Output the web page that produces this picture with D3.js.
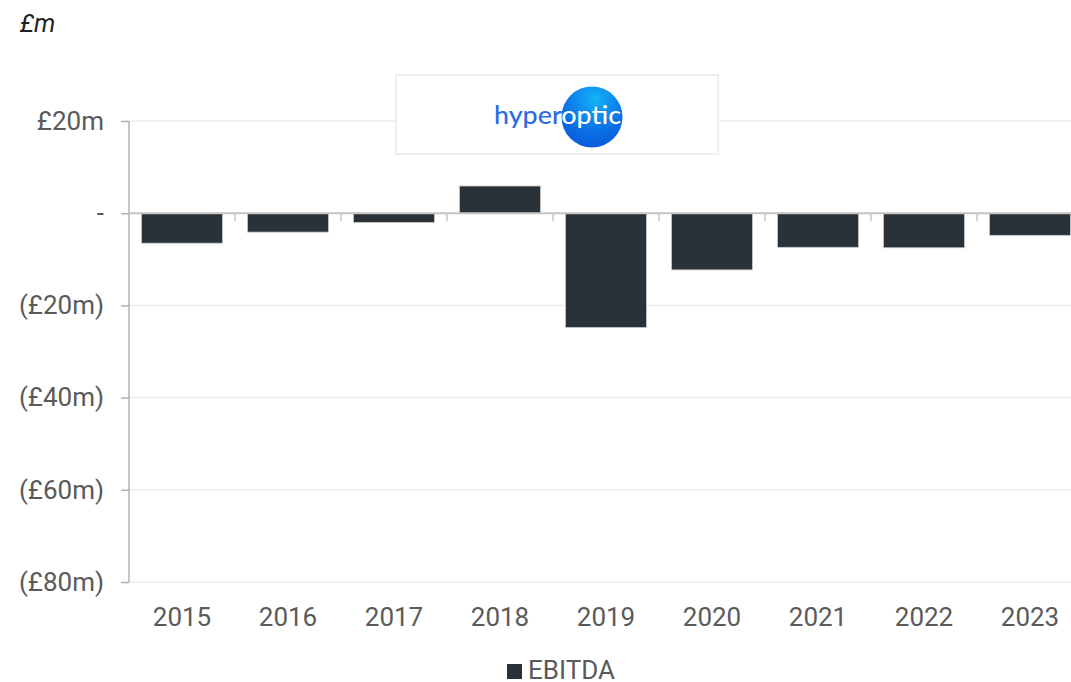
<html>
<head>
<meta charset="utf-8">
<script src="https://cdn.jsdelivr.net/npm/d3@7"></script>
<style>
  body { margin: 0; background: #fff; font-family: Roboto, "Noto Sans", sans-serif; }
  svg { display: block; }
</style>
</head>
<body>
<div id="chart"></div>
<script>
// data
var years = ["2015", "2016", "2017", "2018", "2019", "2020", "2021", "2022", "2023"];
var ebitda = [-6.5, -4.1, -2.0, 5.9, -24.8, -12.3, -7.4, -7.5, -4.8];
var yTicks = [20, 0, -20, -40, -60, -80];
var seriesName = "EBITDA";

var W = 1071, H = 682;
var mLeft = 129, mRight = 1083, mTop = 121, mBottom = 582;

var svg = d3.select("#chart").append("svg").attr("width", W).attr("height", H);

var x = d3.scaleBand().domain(years).range([mLeft, mRight]).paddingInner(0.236).paddingOuter(0.118);
var y = d3.scaleLinear().domain([-80, 20]).range([mBottom, mTop]);

function fmt(v) {
  if (v === 0) return "-";
  if (v < 0) return "(£" + Math.abs(v) + "m)";
  return "£" + v + "m";
}

// gridlines
svg.append("g").selectAll("line").data(yTicks.filter(function(d) { return d !== 0; }))
  .enter().append("line")
  .attr("x1", mLeft).attr("x2", W)
  .attr("y1", function(d) { return y(d); }).attr("y2", function(d) { return y(d); })
  .attr("stroke", "#ececec").attr("stroke-width", 1.5);

// y axis
var yAxis = d3.axisLeft(y).tickValues(yTicks).tickFormat(fmt).tickSize(8).tickPadding(17);
var gy = svg.append("g").attr("transform", "translate(" + mLeft + ",0)").call(yAxis);
gy.select(".domain").attr("stroke", "#b3b3b3").attr("stroke-width", 1.5).attr("d", "M0," + mTop + "V" + mBottom);
gy.selectAll(".tick line").attr("stroke", "#b3b3b3").attr("stroke-width", 1.5);
gy.selectAll(".tick text").attr("fill", "#5a5a5a").style("font-size", "26px")
  .style("font-family", "Roboto, sans-serif");

// bars
svg.append("g").selectAll("rect").data(years).enter().append("rect")
  .attr("x", function(d) { return x(d); })
  .attr("width", x.bandwidth())
  .attr("y", function(d, i) { return y(Math.max(0, ebitda[i])); })
  .attr("height", function(d, i) { return Math.abs(y(ebitda[i]) - y(0)); })
  .attr("fill", "#283238")
  .attr("stroke", "#c8c8c8").attr("stroke-width", 0.8);

// zero axis with ticks at band boundaries
var xAxis = d3.axisBottom(x).tickSize(0).tickPadding(0).tickFormat("");
var gx = svg.append("g").attr("transform", "translate(0," + y(0) + ")").call(xAxis);
gx.select(".domain").attr("stroke", "#c4c4c4").attr("stroke-width", 2).attr("d", "M" + mLeft + ",0H" + W);
var step = x.step();
svg.append("g").selectAll("line").data(years.slice(1)).enter().append("line")
  .attr("x1", function(d) { return x(d) - (step - x.bandwidth()) / 2; })
  .attr("x2", function(d) { return x(d) - (step - x.bandwidth()) / 2; })
  .attr("y1", y(0)).attr("y2", y(0) + 8)
  .attr("stroke", "#c4c4c4").attr("stroke-width", 1.5);

// x labels
svg.append("g").selectAll("text").data(years).enter().append("text")
  .attr("x", function(d) { return x(d) + x.bandwidth() / 2; })
  .attr("y", 626)
  .attr("text-anchor", "middle")
  .attr("fill", "#5a5a5a").style("font-size", "26px")
  .text(function(d) { return d; });

// unit label
svg.append("text").attr("x", 20).attr("y", 32)
  .style("font-size", "25px").style("font-style", "italic").attr("fill", "#222")
  .text("£m");

// legend
svg.append("rect").attr("x", 507).attr("y", 664).attr("width", 15).attr("height", 15).attr("fill", "#283238");
svg.append("text").attr("x", 528).attr("y", 679).attr("fill", "#5a5a5a").style("font-size", "26px")
  .text(seriesName);

// logo box
var defs = svg.append("defs");
var grad = defs.append("radialGradient").attr("id", "ball").attr("cx", "0.55").attr("cy", "0.2").attr("r", "0.9");
grad.append("stop").attr("offset", "0").attr("stop-color", "#14b2f8");
grad.append("stop").attr("offset", "0.6").attr("stop-color", "#0a6fe6");
grad.append("stop").attr("offset", "1").attr("stop-color", "#0a55d8");

svg.append("rect").attr("x", 396).attr("y", 75).attr("width", 322).attr("height", 79)
  .attr("fill", "#fff").attr("stroke", "#eeeeee").attr("stroke-width", 2);
svg.append("circle").attr("cx", 592).attr("cy", 117).attr("r", 30.5).attr("fill", "url(#ball)");
var logo = svg.append("text").attr("x", 494).attr("y", 124)
  .style("font-size", "25px").style("font-family", "Lato, Roboto, sans-serif").style("font-weight", "500")
  .attr("textLength", 127).attr("lengthAdjust", "spacingAndGlyphs");
logo.append("tspan").attr("fill", "#2a6be0").text("hyper");
logo.append("tspan").attr("fill", "#fff").text("optic");
</script>
</body>
</html>
